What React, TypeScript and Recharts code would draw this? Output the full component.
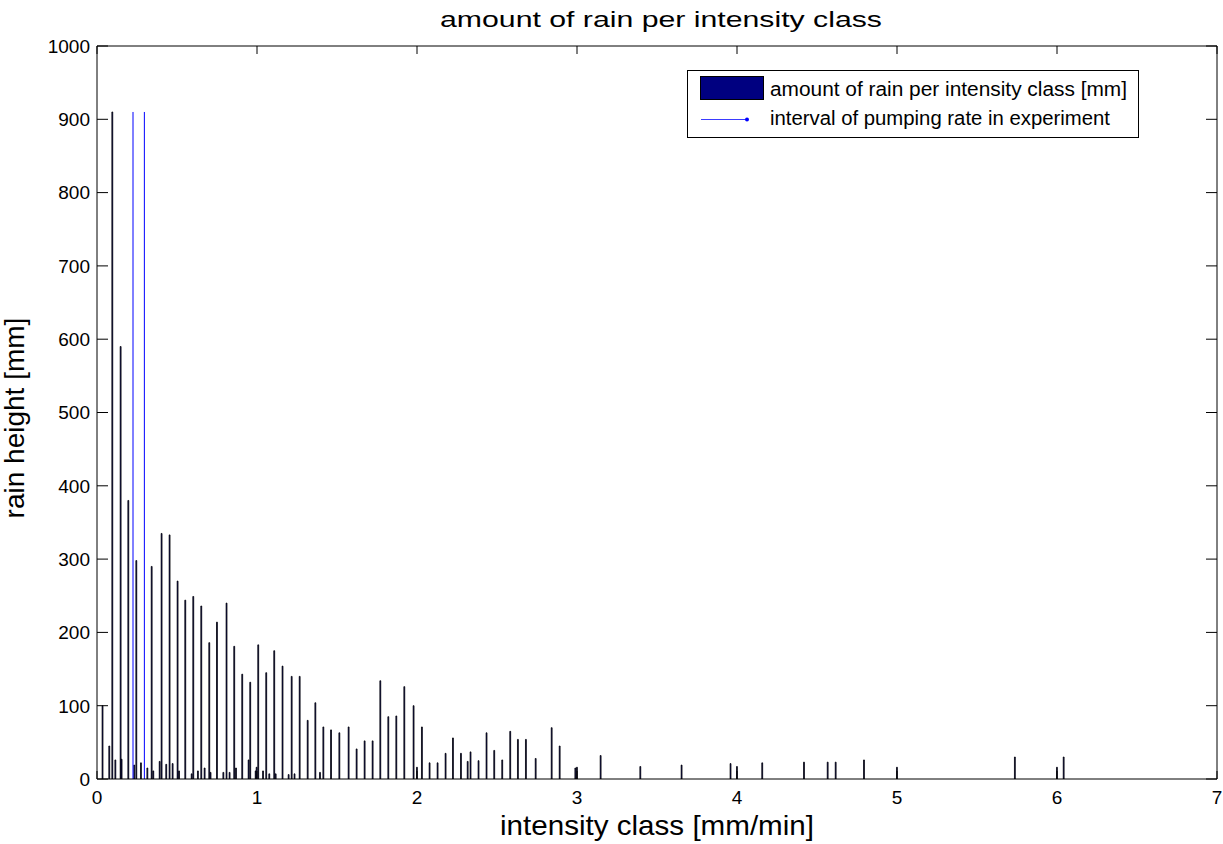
import { ComposedChart, Bar, XAxis, YAxis, Legend, ReferenceLine } from "recharts";

// intensity classes [mm/min] and the rain that fell in each [mm]
const intensityClass = [
  0.035, 0.077, 0.096, 0.115, 0.148, 0.154, 0.196, 0.233, 0.246, 0.275,
  0.315, 0.342, 0.352, 0.392, 0.404, 0.433, 0.454, 0.473, 0.504, 0.513,
  0.552, 0.592, 0.602, 0.631, 0.652, 0.673, 0.702, 0.71, 0.75, 0.79,
  0.81, 0.829, 0.858, 0.869, 0.908, 0.948, 0.958, 0.992, 0.998, 1.008,
  1.038, 1.058, 1.077, 1.108, 1.117, 1.16, 1.198, 1.217, 1.235, 1.267,
  1.317, 1.365, 1.394, 1.415, 1.463, 1.515, 1.573, 1.623, 1.673, 1.723,
  1.771, 1.821, 1.871, 1.921, 1.979, 2.0, 2.031, 2.079, 2.129, 2.179,
  2.225, 2.275, 2.317, 2.335, 2.385, 2.435, 2.483, 2.533, 2.583, 2.631,
  2.681, 2.742, 2.842, 2.892, 2.99, 3.0, 3.148, 3.396, 3.654, 3.96,
  4.0, 4.158, 4.419, 4.567, 4.617, 4.794, 5.0, 5.737, 6.0, 6.042,
];
const rainAmount = [
  100, 45, 910, 26, 590, 27, 380, 19, 298, 22,
  15, 290, 11, 24, 335, 20, 333, 21, 270, 11,
  244, 7, 249, 11, 236, 15, 186, 9, 214, 9,
  240, 9, 181, 15, 143, 26, 132, 11, 16, 183,
  11, 145, 7, 175, 7, 154, 6, 140, 7, 140,
  80, 104, 9, 71, 67, 63, 71, 41, 52, 52,
  134, 85, 86, 126, 100, 16, 71, 22, 22, 35,
  56, 35, 24, 37, 25, 63, 39, 26, 65, 54,
  54, 28, 70, 45, 15, 16, 32, 17, 19, 21,
  17, 22, 23, 23, 23, 26, 16, 30, 16, 30,
];

// pumping rate interval used in the experiment
const pumpInterval = [0.225, 0.296];
const pumpTop = 910;

const xTicks = [0, 1, 2, 3, 4, 5, 6, 7];
const yTicks = [0, 100, 200, 300, 400, 500, 600, 700, 800, 900, 1000];

const data = intensityClass.map((x, i) => ({ x, rain: rainAmount[i] }));

const FONT = '"Liberation Sans", Arial, Helvetica, sans-serif';
const W = 1223;
const H = 844;
const margin = { top: 45, right: 5, bottom: 64, left: 96 };
// box edges (margin + the 1px axis strips)
const PLOT_TOP = margin.top + 1;
const PLOT_RIGHT = W - margin.right - 1;

function BottomTick({ x, y, payload }: any) {
  return (
    <g>
      <line x1={x} y1={y} x2={x} y2={y - 8} stroke="#000" />
      <line x1={x} y1={PLOT_TOP} x2={x} y2={PLOT_TOP + 8} stroke="#000" />
      <text x={x} y={y + 25} textAnchor="middle" fontSize={19} fill="#000" fontFamily={FONT}>
        {payload.value}
      </text>
    </g>
  );
}

function LeftTick({ x, y, payload }: any) {
  return (
    <g>
      <line x1={x} y1={y} x2={x + 11} y2={y} stroke="#000" />
      <line x1={PLOT_RIGHT} y1={y} x2={PLOT_RIGHT - 11} y2={y} stroke="#000" />
      <text x={x - 7} y={y} dy="0.36em" textAnchor="end" fontSize={19} fill="#000" fontFamily={FONT}>
        {payload.value}
      </text>
    </g>
  );
}

function RainLegend() {
  return (
    <svg width={452} height={68} style={{ display: "block" }}>
      <rect x={0.5} y={0.5} width={451} height={67} fill="#fff" stroke="#000" />
      <rect x={13.5} y={6.5} width={63} height={23} fill="#000080" stroke="#000" />
      <text x={83} y={26} fontSize={20} fill="#000" fontFamily={FONT} textLength={357} lengthAdjust="spacingAndGlyphs">
        amount of rain per intensity class [mm]
      </text>
      <line x1={14} y1={49.5} x2={60} y2={49.5} stroke="#3b3bff" />
      <circle cx={60} cy={49.5} r={2} fill="#0000ff" />
      <text x={83} y={55} fontSize={20} fill="#000" fontFamily={FONT} textLength={340} lengthAdjust="spacingAndGlyphs">
        interval of pumping rate in experiment
      </text>
    </svg>
  );
}

export default function App() {
  return (
    <div style={{ position: "absolute", left: 0, top: 0, background: "#fff", fontFamily: FONT }}>
      <ComposedChart width={W} height={H} data={data} margin={margin}>
        <XAxis
          dataKey="x"
          type="number"
          domain={[0, 7]}
          ticks={xTicks}
          height={1}
          tickSize={0}
          tickMargin={0}
          tickLine={false}
          tick={<BottomTick />}
          axisLine={{ stroke: "#000" }}
          allowDataOverflow
        />
        <XAxis
          xAxisId="top"
          orientation="top"
          type="number"
          domain={[0, 7]}
          height={1}
          tickLine={false}
          tick={false}
          axisLine={{ stroke: "#000" }}
        />
        <YAxis
          type="number"
          domain={[0, 1000]}
          ticks={yTicks}
          width={1}
          tickSize={0}
          tickMargin={0}
          tickLine={false}
          tick={<LeftTick />}
          axisLine={{ stroke: "#000" }}
          allowDataOverflow
        />
        <YAxis
          yAxisId="right"
          orientation="right"
          type="number"
          domain={[0, 1000]}
          width={1}
          tickLine={false}
          tick={false}
          axisLine={{ stroke: "#000" }}
        />
        <Bar
          dataKey="rain"
          fill="#000080"
          stroke="#000"
          strokeWidth={0.8}
          barSize={1}
          isAnimationActive={false}
        />
        {pumpInterval.map((v) => (
          <ReferenceLine
            key={v}
            segment={[
              { x: v, y: 0 },
              { x: v, y: pumpTop },
            ]}
            stroke="#0000ff"
            strokeWidth={1}
          />
        ))}
        <Legend
          layout="vertical"
          align="center"
          verticalAlign="middle"
          content={() => <RainLegend />}
          wrapperStyle={{ left: 687, top: 70, width: 452, height: 68 }}
        />
        <text x={661} y={27} textAnchor="middle" fontSize={22} fill="#000" fontFamily={FONT} textLength={442} lengthAdjust="spacingAndGlyphs">
          amount of rain per intensity class
        </text>
        <text x={657} y={835} textAnchor="middle" fontSize={28} fill="#000" fontFamily={FONT} textLength={314} lengthAdjust="spacingAndGlyphs">
          intensity class [mm/min]
        </text>
        <text
          x={24}
          y={418}
          transform="rotate(-90 24 418)"
          textAnchor="middle"
          fontSize={28}
          fill="#000"
          fontFamily={FONT}
        >
          rain height [mm]
        </text>
      </ComposedChart>
    </div>
  );
}
